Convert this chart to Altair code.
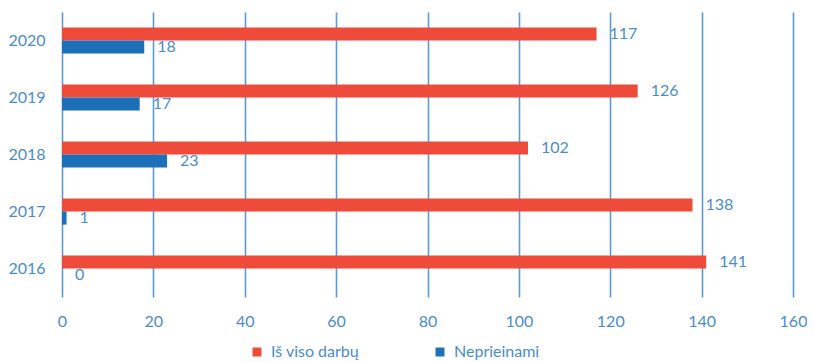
import altair as alt
import pandas as pd

years = ["2020", "2019", "2018", "2017", "2016"]
total = [117, 126, 102, 138, 141]
inaccessible = [18, 17, 23, 1, 0]
series_names = ["Iš viso darbų", "Neprieinami"]
colors = ["#EF4B3A", "#1D6FB8"]
x_ticks = [0, 20, 40, 60, 80, 100, 120, 140, 160]

rows = []
for y, t, n in zip(years, total, inaccessible):
    rows.append({"year": y, "series": series_names[0], "value": t})
    rows.append({"year": y, "series": series_names[1], "value": n})
df = pd.DataFrame(rows)

FONT = "Lato"
TXT = "#4A8CCB"
GRID = "#5B9BD5"
FS = 16

y_enc = alt.Y("year:N", sort=years, title=None,
              scale=alt.Scale(paddingInner=0.54, paddingOuter=0.27),
              axis=alt.Axis(domain=False, ticks=False, labelPadding=17,
                            labelFontSize=FS, labelColor=TXT, labelFont=FONT))
yoff = alt.YOffset("series:N", sort=series_names)
x_enc = alt.X("value:Q", title=None,
              scale=alt.Scale(domain=[0, 160], nice=False),
              axis=alt.Axis(values=x_ticks, grid=True, gridColor=GRID, gridWidth=1.6,
                            domain=False, ticks=False, labelPadding=16, labelFlush=False,
                            labelFontSize=FS, labelColor=TXT, labelFont=FONT))

bars = alt.Chart(df).mark_bar().encode(
    x=x_enc, y=y_enc, yOffset=yoff,
    color=alt.Color("series:N", sort=series_names,
                    scale=alt.Scale(domain=series_names, range=colors),
                    legend=alt.Legend(title=None, orient="none", direction="horizontal",
                                      legendX=187, legendY=332, symbolType="square",
                                      symbolSize=80, symbolStrokeWidth=0,
                                      labelFontSize=FS, labelColor=TXT, labelFont=FONT,
                                      columnPadding=72, labelOffset=6)),
)

labels = alt.Chart(df).mark_text(align="left", baseline="middle", dx=13,
                                 fontSize=FS, color=TXT, font=FONT).encode(
    x="value:Q", y=alt.Y("year:N", sort=years), yOffset=yoff,
    text="value:Q",
)

chart = (bars + labels).properties(
    width=731, height=285,
    autosize=alt.AutoSizeParams(type="none"),
    padding={"left": 54, "top": 4, "right": 14, "bottom": 64},
).configure_view(stroke=None)

chart.save("out.html", embed_options={"renderer": "svg", "actions": False})
